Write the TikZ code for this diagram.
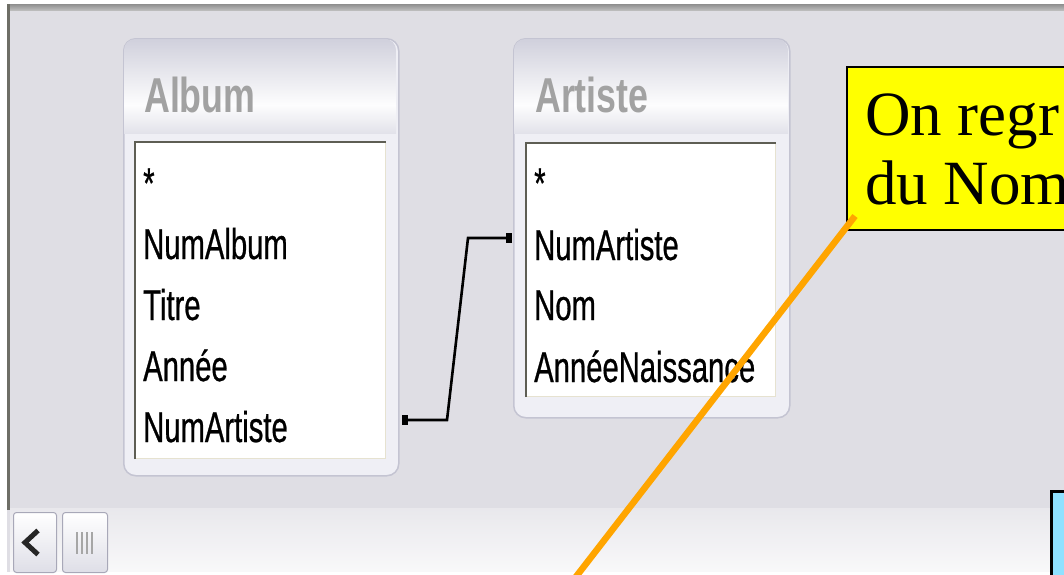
\documentclass[tikz,border=0pt]{standalone}
\usepackage{fontspec}
\setmainfont{Liberation Serif}
\newfontfamily\fieldfont[FakeStretch=0.68,FakeBold=0.6]{Liberation Sans}
\newfontfamily\titlefont[FakeStretch=0.73]{Liberation Sans}
\definecolor{framebg}{HTML}{DFDEE4}
\definecolor{frametop}{HTML}{8E8E8E}
\definecolor{frameleft}{HTML}{6E6E66}
\definecolor{tblborder}{HTML}{C4C4D2}
\definecolor{tblbody}{HTML}{EFEFF5}
\definecolor{tbltop}{HTML}{D0D0DC}
\definecolor{tblband}{HTML}{E2E2EA}
\definecolor{listdark}{HTML}{5E5E54}
\definecolor{listlight}{HTML}{E6E2D0}
\definecolor{titlegray}{HTML}{A2A2A2}
\definecolor{noteyellow}{HTML}{FFFF00}
\definecolor{notecyan}{HTML}{8FE1FF}
\definecolor{pointer}{HTML}{FFA500}
\definecolor{btnborder}{HTML}{A8A8B8}
\begin{document}
\begin{tikzpicture}[x=1pt,y=-1pt,
  tbl/.style={draw=tblborder, line width=1.5pt, fill=tblbody, rounded corners=12pt, anchor=north west, inner sep=0pt},
  listbox/.style={fill=white, draw=listlight, line width=1pt, anchor=north west, inner sep=0pt},
  field/.style={anchor=base west, inner sep=0pt, font=\fieldfont\fontsize{43}{43}\selectfont, text=black},
  tbltitle/.style={anchor=base west, inner sep=0pt, font=\titlefont\bfseries\fontsize{49}{49}\selectfont, text=titlegray},
  relation/.style={draw=black, line width=2.6pt},
  endmark/.style={fill=black, minimum width=6pt, minimum height=10pt, inner sep=0pt},
  notebox/.style={draw=black, line width=2pt, fill=noteyellow, anchor=north west, inner sep=0pt},
  notetext/.style={anchor=base west, inner sep=0pt, font=\fontsize{63}{69}\selectfont, text=black},
  btn/.style={draw=btnborder, line width=1pt, rounded corners=3pt, top color=white, bottom color=tblband!80!tbltop, anchor=north west, inner sep=0pt},
  pointerline/.style={draw=pointer, line width=6.5pt}
]
\useasboundingbox (0,0) rectangle (1064,574);
\clip (0,0) rectangle (1064,574);
% window frame
\fill[white] (0,0) rectangle (1064,574);
\fill[framebg] (7,4) rectangle (1064,574);
\shade[top color=frametop, bottom color=frametop!60!white] (7,4) rectangle (1064,10);
\fill[frameleft] (7,4) rectangle (10,510);
\shade[top color=framebg!70!white, bottom color=framebg!20!white] (10,508) rectangle (1064,572);
\fill[white] (0,572) rectangle (1064,574);
% scroll buttons
\node[btn, minimum width=43pt, minimum height=60pt] (btnleft) at (13,512) {};
\node[btn, minimum width=45pt, minimum height=60pt] (btnthumb) at (62,512) {};
\draw[line width=5pt, black!85, line join=miter] ([xshift=25pt,yshift=-12pt]btnleft.west) -- ([xshift=12pt]btnleft.west) -- ([xshift=25pt,yshift=12pt]btnleft.west);
\foreach \dx in {-8,-3,2,7}
  \draw[gray!70, line width=1.2pt] ([xshift=\dx pt,yshift=-11pt]btnthumb.center) -- ([xshift=\dx pt,yshift=11pt]btnthumb.center);

% ===== Album table =====
\node[tbl, minimum width=275pt, minimum height=437pt] (album) at (123,38) {};
\shade[top color=tbltop, bottom color=white!96!tbltop] (124,105) [rounded corners=11pt] -- (124,39) -- (396,39) [sharp corners] -- (396,105) -- cycle;
\shade[top color=white!96!tbltop, bottom color=tblband] (124,105) rectangle (396,133);
\node[listbox, minimum width=250pt, minimum height=316pt] (albumlist) at (135,142) {};
\draw[listdark, line width=2.5pt] (albumlist.south west) -- (albumlist.north west) -- (albumlist.north east);
\node[tbltitle] (albumT) at (144,112) {Album};
\node[field] (a0) at (143,198) {*};
\node[field] (a1) at (143,259) {NumAlbum};
\node[field] (a2) at (143,320) {Titre};
\node[field] (a3) at (143,381) {Année};
\node[field] (a4) at (143,442) {NumArtiste};

% ===== Artiste table =====
\node[tbl, minimum width=276pt, minimum height=379pt] (artiste) at (513,38) {};
\shade[top color=tbltop, bottom color=white!96!tbltop] (514,105) [rounded corners=11pt] -- (514,39) -- (788,39) [sharp corners] -- (788,105) -- cycle;
\shade[top color=white!96!tbltop, bottom color=tblband] (514,105) rectangle (788,133);
\node[listbox, minimum width=249pt, minimum height=253pt] (artistelist) at (526,143) {};
\draw[listdark, line width=2.5pt] (artistelist.south west) -- (artistelist.north west) -- (artistelist.north east);
\node[tbltitle] (artisteT) at (535,112) {Artiste};
\node[field] (r0) at (534,198) {*};
\node[field] (r1) at (534,260) {NumArtiste};
\node[field] (r2) at (534,320) {Nom};
\node[field] (r3) at (534,382) {AnnéeNaissance};

% ===== relation =====
\coordinate (jA) at (album.east |- 0,420);
\coordinate (bendA) at (447,420);
\coordinate (bendB) at (468,238);
\coordinate (jB) at (artiste.west |- 0,238);
\draw[relation] ([xshift=3pt]jA) -- (bendA) -- (bendB) -- ([xshift=-2pt]jB);
\node[endmark] (mA) at ([xshift=5pt]jA) {};
\node[endmark] (mB) at ([xshift=-4pt]jB) {};

% ===== callouts =====
\node[notebox, minimum width=240pt, minimum height=163pt] (note) at (846,66) {};
\node[notetext] (noteL1) at (865,135) {On regr};
\node[notetext] (noteL2) at (865,204) {du Nom};
\coordinate (noteTip) at (855,216);
\coordinate (ptrEnd) at (575,578);
\draw[pointerline] (noteTip) -- (ptrEnd);
\node[draw=black, line width=3pt, fill=notecyan, anchor=north west, minimum width=40pt, minimum height=100pt, inner sep=0pt] (cyanbox) at (1050,490) {};
\end{tikzpicture}
\end{document}
